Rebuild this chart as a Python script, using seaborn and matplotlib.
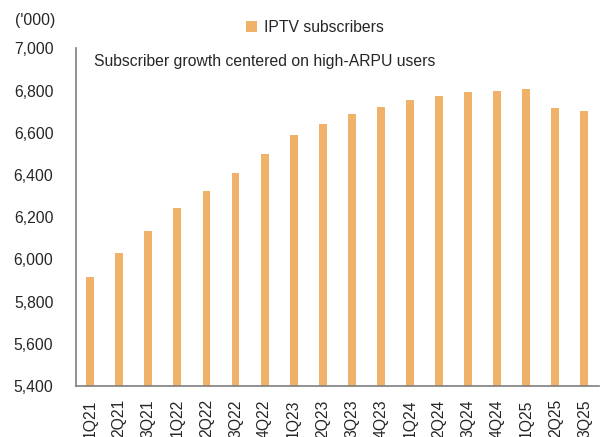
import matplotlib
matplotlib.use('Agg')
import matplotlib.pyplot as plt
import seaborn as sns
import numpy as np
import pandas as pd

# IPTV subscribers ('000), quarterly
quarters = ['1Q21', '2Q21', '3Q21', '1Q22', '2Q22', '3Q22', '4Q22',
            '1Q23', '2Q23', '3Q23', '4Q23', '1Q24', '2Q24', '3Q24',
            '4Q24', '1Q25', '2Q25', '3Q25']
subscribers = [5915, 6032, 6132, 6241, 6325, 6411, 6500,
               6587, 6642, 6690, 6723, 6756, 6776, 6794,
               6798, 6808, 6717, 6704]
y_ticks = [5400, 5600, 5800, 6000, 6200, 6400, 6600, 6800, 7000]

bar_color = '#F0B169'
axis_color = '#7f7f7f'
fs = 11.3

sns.set_style('white')
plt.rcParams['font.family'] = ['Liberation Sans', 'DejaVu Sans']

df = pd.DataFrame({'quarter': quarters, 'subs': subscribers})

fig = plt.figure(figsize=(6.05, 4.37), dpi=100)
ax = fig.add_axes([0.125, 0.1167, 0.865, 0.7728])

sns.barplot(data=df, x='quarter', y='subs', color=bar_color, width=0.27,
            saturation=1, linewidth=0, ax=ax, label='IPTV subscribers')

handles, labels = ax.get_legend_handles_labels()
if ax.get_legend() is not None:
    ax.get_legend().remove()

ax.set_xlim(-0.5, len(quarters) - 0.5)
ax.set_ylim(5400, 7000)
ax.set_yticks(y_ticks)
ax.set_yticklabels([f'{v:,}' for v in y_ticks])
ax.set_xlabel('')
ax.set_ylabel('')

# category ticks sit between bars
ax.set_xticks(np.arange(len(quarters)))
ax.set_xticklabels(quarters, rotation=90)
ax.set_xticks(np.arange(len(quarters) + 1) - 0.5, minor=True)
ax.tick_params(axis='x', which='major', length=0, pad=9.5, labelsize=fs)
ax.tick_params(axis='x', which='minor', direction='in', length=4,
               width=1, color=axis_color)
ax.tick_params(axis='y', direction='in', length=5, width=1,
               color=axis_color, pad=16, labelsize=fs)

for side in ['top', 'right']:
    ax.spines[side].set_visible(False)
for side in ['left', 'bottom']:
    ax.spines[side].set_color(axis_color)
    ax.spines[side].set_linewidth(1.2)

ax.text(0.036, 0.96, 'Subscriber growth centered on high-ARPU users',
        transform=ax.transAxes, fontsize=fs, va='center', ha='left')
fig.text(0.025, 0.954, "('000)", fontsize=fs, va='center', ha='left')

fig.legend(handles, labels, loc='center', bbox_to_anchor=(0.52, 0.937),
           frameon=False, fontsize=fs, handlelength=0.75, handleheight=0.75,
           handletextpad=0.4)

plt.savefig('out.png', dpi=100)
plt.close()
